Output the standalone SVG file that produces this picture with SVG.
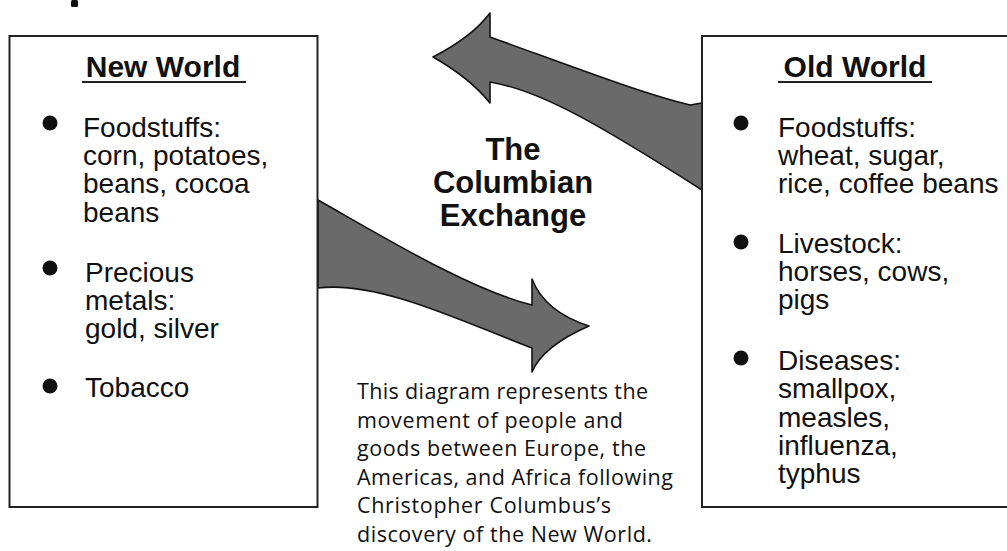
<svg xmlns="http://www.w3.org/2000/svg" width="1007" height="551" viewBox="0 0 1007 551">
<style>
.box{fill:#fff;stroke:#222;stroke-width:2}
.arrow{fill:#6a6a6a;stroke:#111;stroke-width:1.6;stroke-linejoin:round}
.title{font-family:"Liberation Sans",Arial,sans-serif;font-weight:bold;font-size:30px;fill:#111;text-anchor:middle}
.ul{stroke:#222;stroke-width:2}
.item{font-family:"Liberation Sans",Arial,sans-serif;font-size:28px;fill:#111}
.bullet{fill:#111}
.center{font-family:"Liberation Sans",Arial,sans-serif;font-weight:bold;font-size:31px;fill:#111;text-anchor:middle}
.cap{font-family:"Open Sans","Noto Sans",sans-serif;font-size:21.5px;fill:#111}
</style>
<rect width="1007" height="551" fill="#fff"/>
<rect x="71" y="0" width="7" height="7" rx="1.5" fill="#111"/>

<g id="connectors">
  <path id="arrow-old-to-new" class="arrow" d="M 702,103 L 690,105 C 640,93 560,62 490,37 L 490,13 Q 472,37 433,57 Q 470,78 490,103 L 490,82 C 540,90 600,125 702,190 Z"/>
  <path id="arrow-new-to-old" class="arrow" d="M 318,200 C 380,235 470,290 532,305 L 532,279 Q 545,312 589,326 Q 543,346 532,372 L 532,348 C 470,325 380,280 318,288 Z"/>
</g>

<g id="new-world">
  <rect class="box" x="9.5" y="36" width="308" height="471"/>
  <text class="title" x="163" y="77">New World</text>
  <line class="ul" x1="82" y1="82" x2="246" y2="82"/>
  <circle class="bullet" cx="50" cy="123" r="7.5"/>
  <text class="item"><tspan x="83" y="137">Foodstuffs:</tspan><tspan x="83" y="165">corn, potatoes,</tspan><tspan x="83" y="193">beans, cocoa</tspan><tspan x="83" y="222">beans</tspan></text>
  <circle class="bullet" cx="50" cy="268" r="7.5"/>
  <text class="item"><tspan x="85" y="282">Precious</tspan><tspan x="85" y="310">metals:</tspan><tspan x="85" y="338">gold, silver</tspan></text>
  <circle class="bullet" cx="50" cy="386" r="7.5"/>
  <text class="item" x="85" y="397">Tobacco</text>
</g>

<g id="old-world">
  <rect class="box" x="702" y="36" width="330" height="471"/>
  <text class="title" x="855" y="77">Old World</text>
  <line class="ul" x1="778" y1="82" x2="932" y2="82"/>
  <circle class="bullet" cx="741" cy="123" r="7.5"/>
  <text class="item"><tspan x="778" y="137">Foodstuffs:</tspan><tspan x="778" y="165">wheat, sugar,</tspan><tspan x="778" y="193">rice, coffee beans</tspan></text>
  <circle class="bullet" cx="741" cy="242" r="7.5"/>
  <text class="item"><tspan x="778" y="253">Livestock:</tspan><tspan x="778" y="281">horses, cows,</tspan><tspan x="778" y="309">pigs</tspan></text>
  <circle class="bullet" cx="741" cy="358" r="7.5"/>
  <text class="item"><tspan x="778" y="370">Diseases:</tspan><tspan x="778" y="398">smallpox,</tspan><tspan x="778" y="427">measles,</tspan><tspan x="778" y="455">influenza,</tspan><tspan x="778" y="483">typhus</tspan></text>
</g>

<g id="title">
  <text class="center"><tspan x="513" y="160">The</tspan><tspan x="513" y="193">Columbian</tspan><tspan x="513" y="226">Exchange</tspan></text>
</g>

<g id="caption">
  <text class="cap" x="357" y="399" textLength="291" lengthAdjust="spacing">This diagram represents the</text>
  <text class="cap" x="357" y="427.5" textLength="266" lengthAdjust="spacing">movement of people and</text>
  <text class="cap" x="357" y="456" textLength="289" lengthAdjust="spacing">goods between Europe, the</text>
  <text class="cap" x="357" y="484.5" textLength="316" lengthAdjust="spacing">Americas, and Africa following</text>
  <text class="cap" x="357" y="513" textLength="254" lengthAdjust="spacing">Christopher Columbus’s</text>
  <text class="cap" x="357" y="541.5" textLength="295" lengthAdjust="spacing">discovery of the New World.</text>
</g>
</svg>
